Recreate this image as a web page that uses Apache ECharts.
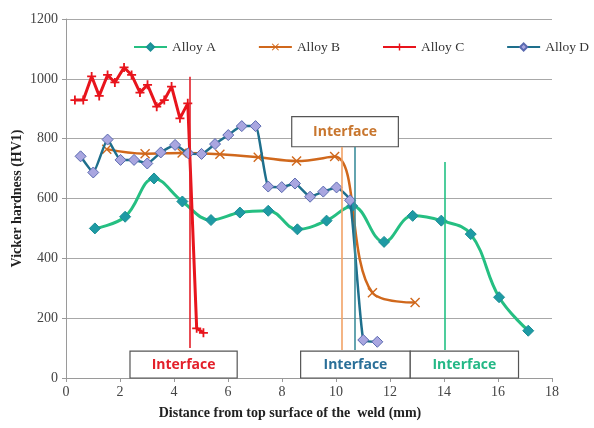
<!DOCTYPE html>
<html>
<head>
<meta charset="utf-8">
<script src="https://cdn.jsdelivr.net/npm/echarts@6/dist/echarts.min.js"></script>
<style>
  html, body { margin: 0; padding: 0; background: #fff; }
  #chart { width: 594px; height: 428px; }
</style>
</head>
<body>
<div id="chart"></div>
<script>
// Hardness profiles across the weld (distance in mm, hardness in HV1)
const seriesNames = ['Alloy A', 'Alloy B', 'Alloy C', 'Alloy D'];

const distanceA = [1.07, 2.19, 3.26, 4.31, 5.37, 6.44, 7.49, 8.57, 9.65, 10.6, 11.78, 12.84, 13.9, 14.99, 16.04, 17.12];
const hardnessA = [500, 539, 667, 590, 528, 553, 559, 497, 526, 575, 455, 542, 526, 481, 270, 158];

const distanceB = [1.51, 2.93, 4.3, 5.7, 7.12, 8.54, 9.95, 11.35, 12.93];
const hardnessB = [765, 750, 752, 748, 738, 725, 740, 285, 252];

const distanceC = [0.33, 0.64, 0.95, 1.23, 1.54, 1.81, 2.15, 2.43, 2.74, 3.02, 3.36, 3.64, 3.91, 4.22, 4.51, 4.84, 5.09];
const hardnessC = [929, 929, 1008, 943, 1013, 988, 1038, 1013, 954, 980, 907, 929, 974, 868, 918, 166, 151];

const distanceD = [0.54, 1.01, 1.54, 2.02, 2.52, 3.01, 3.51, 4.04, 4.53, 5.02, 5.52, 6.01, 6.51, 7.02, 7.49, 7.99, 8.48, 9.04, 9.53, 10.02, 10.52, 11.01, 11.53];
const hardnessD = [741, 687, 797, 729, 729, 717, 754, 779, 751, 749, 782, 812, 842, 842, 640, 638, 650, 606, 623, 637, 594, 127, 121];

// Interface positions (mm) with the vertical extent of each marker line (HV1)
const interfaceX = [4.59, 10.2, 10.7, 14.04];
const interfaceFrom = [100, 94, 94, 94];
const interfaceTo = [1007, 772, 772, 722];
const interfaceColors = ['#e3202a', '#f2a266', '#3d8e9c', '#22c184'];

// Label boxes: [xStart, yStart, xEnd, yEnd] in data units
const interfaceBoxes = [
  [2.37, 0, 6.34, 90],
  [8.36, 773, 12.31, 874],
  [8.69, 0, 12.75, 90],
  [12.75, 0, 16.76, 90]
];
const interfaceBoxColors = ['#e3202a', '#c8762e', '#2a6f98', '#24b886'];

const xTicks = { min: 0, max: 18, interval: 2 };
const yTicks = { min: 0, max: 1200, interval: 200 };

const zip = (xs, ys) => xs.map((x, i) => [x, ys[i]]);

const crossPath = 'path://M1,0 L5,4 L9,0 L10,1 L6,5 L10,9 L9,10 L5,6 L1,10 L0,9 L4,5 L0,1 Z';
const plusPath = 'path://M4,0 H6 V4 H10 V6 H6 V10 H4 V6 H0 V4 H4 Z';

const serif = '"Liberation Serif", "DejaVu Serif", serif';

const chart = echarts.init(document.getElementById('chart'), null, { renderer: 'canvas' });

chart.setOption({
  animation: false,
  backgroundColor: '#ffffff',
  grid: { left: 66, right: 42, top: 19, bottom: 50, containLabel: false, outerBoundsMode: 'none' },
  legend: {
    data: seriesNames,
    left: 133,
    top: 40,
    width: 461,
    padding: 0,
    itemWidth: 33,
    itemHeight: 9,
    itemGap: 42,
    textStyle: { fontFamily: serif, fontSize: 13.5, color: '#333' }
  },
  xAxis: {
    type: 'value',
    min: xTicks.min, max: xTicks.max, interval: xTicks.interval,
    name: 'Distance from top surface of the  weld (mm)',
    nameLocation: 'middle',
    nameGap: 28,
    nameMoveOverlap: false,
    nameTextStyle: { fontFamily: serif, fontSize: 14, fontWeight: 'bold', color: '#222', padding: [0, 38, 0, 0] },
    axisLine: { show: true, lineStyle: { color: '#9a9a9a', width: 1 } },
    axisTick: { show: true, length: 4, lineStyle: { color: '#9a9a9a' } },
    axisLabel: { fontFamily: serif, fontSize: 14, color: '#444', margin: 7 },
    splitLine: { show: false }
  },
  yAxis: {
    type: 'value',
    min: yTicks.min, max: yTicks.max, interval: yTicks.interval,
    name: 'Vicker hardness (HV1)',
    nameLocation: 'middle',
    nameGap: 42,
    nameMoveOverlap: false,
    nameTextStyle: { fontFamily: serif, fontSize: 14, fontWeight: 'bold', color: '#222' },
    axisLine: { show: true, lineStyle: { color: '#9a9a9a', width: 1 } },
    axisTick: { show: true, length: 4, lineStyle: { color: '#9a9a9a' } },
    axisLabel: { fontFamily: serif, fontSize: 14, color: '#444', margin: 8, formatter: v => String(v) },
    splitLine: { show: true, lineStyle: { color: '#a8a8a8', width: 1 } }
  },
  series: [
    {
      name: 'Interfaces',
      type: 'line',
      data: [],
      z: 1,
      silent: true,
      markLine: {
        silent: true,
        symbol: ['none', 'none'],
        label: { show: false },
        data: interfaceX.map((x, i) => [
          { coord: [x, interfaceFrom[i]], lineStyle: { color: interfaceColors[i], width: 1.6, type: 'solid' } },
          { coord: [x, interfaceTo[i]] }
        ])
      },
      markArea: {
        silent: true,
        data: interfaceBoxes.map((b, i) => [
          {
            coord: [b[0], b[1]],
            itemStyle: { color: '#ffffff', borderColor: '#555', borderWidth: 1.2 },
            label: {
              show: true, position: 'inside', formatter: 'Interface',
              fontFamily: '"Open Sans", "Noto Sans", sans-serif', fontWeight: 'bold',
              fontSize: 14, color: interfaceBoxColors[i]
            }
          },
          { coord: [b[2], b[3]] }
        ])
      }
    },
    {
      name: 'Alloy A',
      type: 'line',
      z: 3,
      data: zip(distanceA, hardnessA),
      smooth: 0.4,
      symbol: 'diamond',
      symbolSize: 11,
      color: '#1e9aa4',
      lineStyle: { color: '#25bf82', width: 3 },
      itemStyle: { color: '#1e9aa4', borderColor: '#1b8f95', borderWidth: 1 }
    },
    {
      name: 'Alloy B',
      type: 'line',
      z: 3,
      data: zip(distanceB, hardnessB),
      smooth: 0.4,
      symbol: crossPath,
      symbolSize: 10,
      color: '#d0681c',
      lineStyle: { color: '#d0681c', width: 2.5 },
      itemStyle: { color: '#d0681c' }
    },
    {
      name: 'Alloy C',
      type: 'line',
      z: 3,
      data: zip(distanceC, hardnessC),
      smooth: false,
      symbol: plusPath,
      symbolSize: 9,
      color: '#e8141c',
      lineStyle: { color: '#e8141c', width: 3 },
      itemStyle: { color: '#e8141c' }
    },
    {
      name: 'Alloy D',
      type: 'line',
      z: 4,
      data: zip(distanceD, hardnessD),
      smooth: 0.15,
      symbol: 'diamond',
      symbolSize: 11,
      color: '#a9a6e0',
      lineStyle: { color: '#1e6f8c', width: 2.5 },
      itemStyle: { color: '#a9a6e0', borderColor: '#5a6ab0', borderWidth: 1 }
    }
  ]
});
</script>
</body>
</html>
